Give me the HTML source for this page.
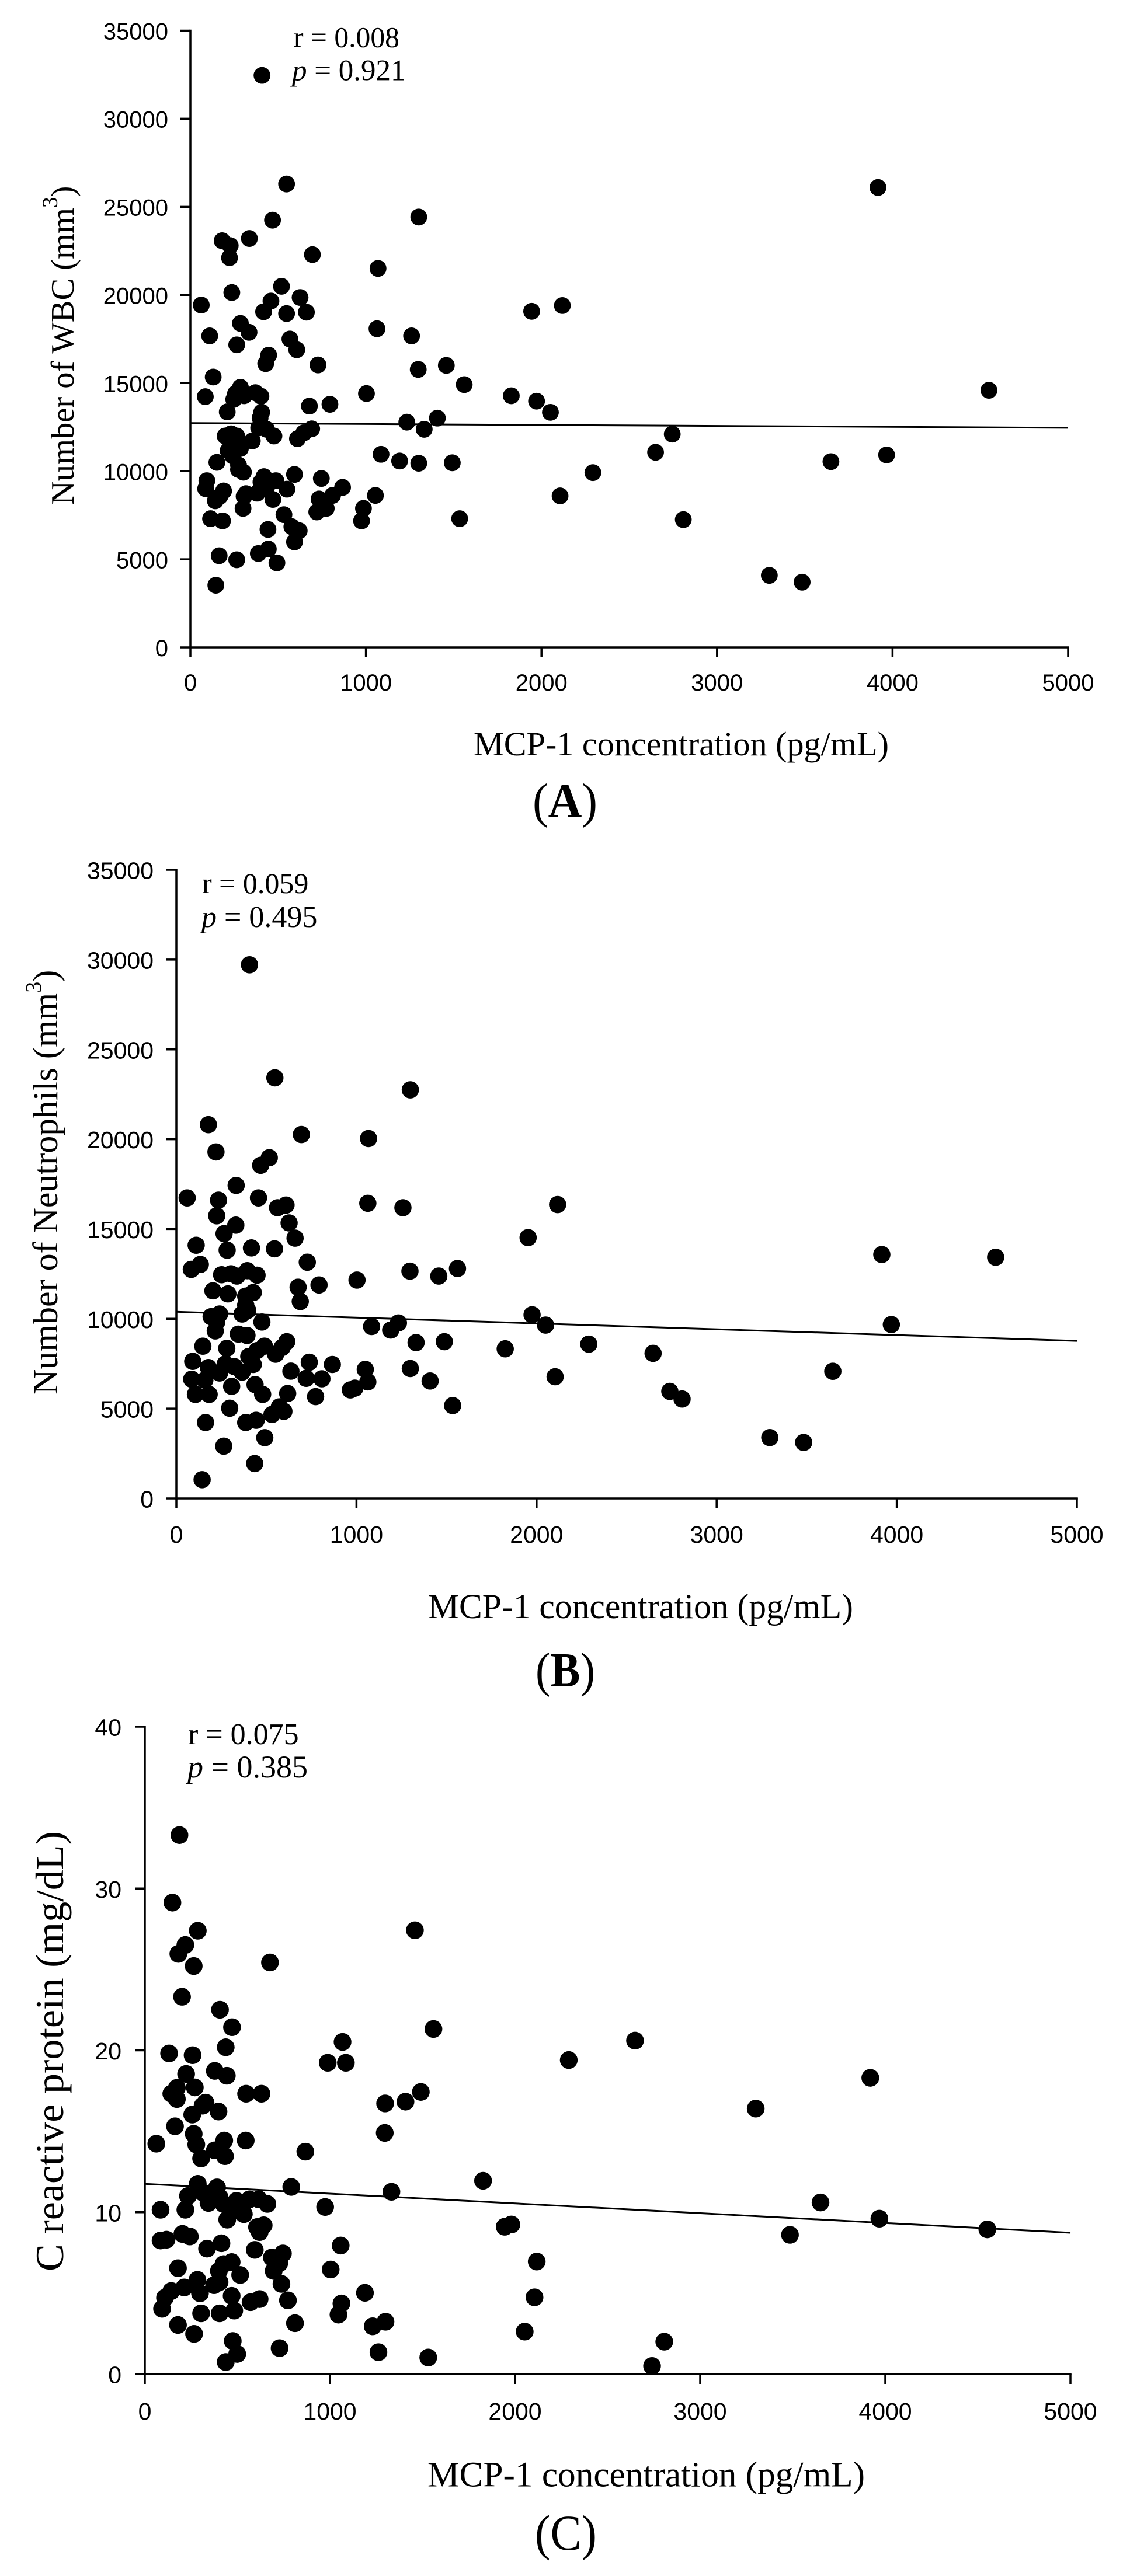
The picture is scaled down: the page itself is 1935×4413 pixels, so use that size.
<!DOCTYPE html>
<html lang="en">
<head>
<meta charset="utf-8">
<title>MCP-1 correlation scatter plots</title>
<style>
html,body{margin:0;padding:0;background:#fff;}
svg{display:block;}
.tick{font-family:"Liberation Sans",Arial,sans-serif;fill:#000;}
.serif{font-family:"Liberation Serif","Times New Roman",serif;fill:#000;}
</style>
</head>
<body>
<svg id="figure" xmlns="http://www.w3.org/2000/svg" width="1935" height="4413" viewBox="0 0 1935 4413">
  <rect x="0" y="0" width="1935" height="4413" fill="#fff"/>

  <g id="panel-a"></g>
  <g id="panel-b"></g>
  <g id="panel-c"></g>

  <!-- Panel A text -->
  <text class="serif" x="503" y="80.5" font-size="50" textLength="181" lengthAdjust="spacingAndGlyphs">r = 0.008</text>
  <text class="serif" x="500" y="137.5" font-size="51"><tspan font-style="italic">p</tspan> = 0.921</text>
  <text class="serif" transform="translate(126,865) rotate(-90)" font-size="56.5">Number of WBC (mm<tspan font-size="37" dy="-28">3</tspan><tspan dy="28">)</tspan></text>
  <text class="serif" x="811" y="1294" font-size="58" textLength="711" lengthAdjust="spacingAndGlyphs">MCP-1 concentration (pg/mL)</text>
  <text class="serif" x="912" y="1400" font-size="84" textLength="111" lengthAdjust="spacingAndGlyphs">(<tspan font-weight="bold">A</tspan>)</text>

  <!-- Panel B text -->
  <text class="serif" x="346" y="1530" font-size="50">r = 0.059</text>
  <text class="serif" x="345" y="1588" font-size="52"><tspan font-style="italic">p</tspan> = 0.495</text>
  <text class="serif" transform="translate(98,2389) rotate(-90)" font-size="60">Number of Neutrophils (mm<tspan font-size="38" dy="-28">3</tspan><tspan dy="28">)</tspan></text>
  <text class="serif" x="733" y="2772" font-size="60" textLength="728" lengthAdjust="spacingAndGlyphs">MCP-1 concentration (pg/mL)</text>
  <text class="serif" x="917" y="2889" font-size="84" textLength="102" lengthAdjust="spacingAndGlyphs">(<tspan font-weight="bold">B</tspan>)</text>

  <!-- Panel C text -->
  <text class="serif" x="322" y="2988" font-size="52">r = 0.075</text>
  <text class="serif" x="321" y="3045" font-size="54"><tspan font-style="italic">p</tspan> = 0.385</text>
  <text class="serif" transform="translate(108,3891) rotate(-90)" font-size="68" textLength="754" lengthAdjust="spacingAndGlyphs">C reactive protein (mg/dL)</text>
  <text class="serif" x="732" y="4259.5" font-size="61" textLength="749" lengthAdjust="spacingAndGlyphs">MCP-1 concentration (pg/mL)</text>
  <text class="serif" x="916" y="4368" font-size="86" textLength="106" lengthAdjust="spacingAndGlyphs">(C)</text>
</svg>

<script>
/* ---------- shared tick labels ---------- */
const mcpTicks = [0, 1000, 2000, 3000, 4000, 5000];
const cellCountTicks = [0, 5000, 10000, 15000, 20000, 25000, 30000, 35000];
const crpTicks = [0, 10, 20, 30, 40];

/* ---------- panel A: WBC ---------- */
const wbcMcp = [62,110,85,130,210,181,227,223,236,336,468,548,1301,695,1069,519,459,625,417,548,661,1063,1260,285,334,264,567,606,446,429,727,1458,1298,1560,1003,795,678,1828,1944,2119,1972,2051,1407,1233,1332,285,257,247,306,370,402,406,397,389,434,476,691,646,610,353,198,232,264,232,285,215,242,274,274,302,151,1086,1192,1301,1492,94,87,189,168,142,593,746,419,487,402,434,550,317,380,306,470,867,810,733,1054,2106,300,774,720,986,975,533,115,183,1534,578,620,442,593,444,387,493,164,264,145,408,3917,4549,2745,2650,2293,2808,3298,3485,3649,3966];
const wbcValues = [19426,17676,14227,15343,13365,23078,22799,22114,20136,23204,24244,26298,24422,22291,21505,20491,19654,19857,19045,18944,19020,18082,17676,18386,17879,17169,17498,16890,16585,16104,16028,16002,15774,14912,14404,13796,13694,14278,19071,19400,13973,13339,13010,12781,12376,14760,14404,14075,14278,14455,14252,13339,13010,12452,12376,11995,12401,12173,11843,11716,11995,12122,11995,11488,11285,11158,10854,10347,10093,9941,10499,10956,10575,10448,10474,9459,9003,8876,8572,8318,9814,9586,9688,9459,9383,9079,8977,8724,8749,8572,8394,9079,8622,8420,8622,8597,7887,7887,7684,7887,7177,7532,7304,7177,7304,6847,6619,6695,5985,5579,5326,4793,5199,4971,3525,32461,26100,14590,12100,11070,9916,7250,4085,3700,10540,10920];
const wbcFit = [12730, 12460];

/* ---------- panel B: neutrophils ---------- */
const neutMcp = [60,110,83,133,178,220,234,224,265,330,332,282,406,547,1299,694,1067,516,468,456,562,609,1063,1258,626,659,417,545,727,1297,1003,1457,1561,792,676,688,251,303,336,394,448,203,286,427,385,385,396,365,240,193,224,216,475,1233,1084,1190,344,392,147,280,613,587,489,448,402,551,1331,1488,1826,91,178,271,323,427,365,738,866,1049,636,240,85,158,721,808,1063,1299,1409,307,437,479,106,182,618,773,966,991,296,572,597,531,1534,162,385,443,491,263,435,143,3917,4549,3970,2117,1953,1975,2050,2290,2103,2647,2740,2808,3295,3483,3645];
const neutValues = [16731,14096,12753,13027,20808,19291,16606,15736,14742,15214,17427,13822,29708,23418,22747,20261,20037,18968,18546,16731,16184,16333,16432,16184,15339,14493,13946,13897,13151,12654,12157,12380,12803,11883,11759,10963,12455,12505,12380,12679,12430,11560,11386,11460,11262,10764,10466,10267,10267,10118,9820,9323,9820,9770,9571,9372,9148,9074,8477,8353,8726,8403,8477,8229,7905,8030,8676,8726,8328,7632,7284,7483,7334,7458,7035,7582,7458,7185,7085,6986,6638,6588,6687,6662,6488,7234,6538,6240,6339,5792,5792,5792,5842,5668,6041,6140,5022,5096,4848,4674,5171,4226,4226,4351,3381,2909,1939,1044,13580,13430,9680,16360,14520,10225,9650,8590,6776,8077,5960,5535,3388,3116,7078];
const neutFit = [10390, 8770];

/* ---------- panel C: C reactive protein ---------- */
const crpMcp = [187,149,286,219,181,264,676,1459,201,406,471,1559,437,1068,131,258,988,1086,378,223,443,270,173,143,173,547,630,1491,328,312,1408,1298,256,398,163,264,1296,278,429,545,62,867,378,433,304,1827,286,390,791,1332,233,314,404,344,425,495,565,616,662,85,219,974,535,485,445,642,606,620,1944,1980,203,243,117,85,414,336,594,1058,746,686,726,696,469,425,400,179,1004,2117,515,284,404,374,213,298,143,109,738,1189,469,620,571,773,2105,1062,1046,93,304,404,483,811,179,1231,1300,266,2052,475,499,437,728,1262,1531,2290,2648,3300,3919,3650,3485,3968,4551,2806,2740];
const crpValues = [33.3,29.13,27.39,26.51,25.96,25.21,25.43,27.42,23.31,22.51,21.43,21.32,20.19,20.52,19.81,19.7,19.23,19.23,18.73,18.54,18.43,17.71,17.68,17.32,16.99,17.32,17.32,17.43,16.77,16.58,16.83,16.72,16.03,16.22,15.31,14.84,14.9,14.18,14.43,14.43,14.23,13.74,13.82,13.46,13.32,11.94,11.75,11.53,11.56,11.26,11,11.2,10.92,10.57,10.51,10.7,10.79,10.79,10.51,10.15,10.15,10.32,9.88,10.1,9.54,9.19,9.08,8.77,9.1,9.24,8.66,8.5,8.3,8.25,8.08,7.75,7.67,7.94,7.45,7.2,6.84,6.37,6.92,6.79,6.37,6.54,6.46,6.95,6.12,5.82,5.68,5.49,5.35,4.99,5.13,4.72,5.57,5.02,4.83,4.63,4.44,4.55,4.74,4.36,3.67,4.03,3.75,3.75,3.92,3.14,3.03,2.95,3.23,2.48,2.62,2.04,1.24,0.74,1.6,1.35,1.02,19.4,20.6,16.4,18.3,10.6,8.6,9.6,8.94,2,0.5];
const crpFit = [11.75, 8.73];

const SVG_NS = 'http://www.w3.org/2000/svg';

function make(tag, parent, attrs) {
  const el = document.createElementNS(SVG_NS, tag);
  for (const k in attrs) el.setAttribute(k, attrs[k]);
  parent.appendChild(el);
  return el;
}

function drawPanel(cfg) {
  const g = document.getElementById(cfg.id);
  const xScale = v => cfg.x0 + (v - cfg.xMin) / (cfg.xMax - cfg.xMin) * (cfg.x1 - cfg.x0);
  const yScale = v => cfg.y0 - (v - cfg.yMin) / (cfg.yMax - cfg.yMin) * (cfg.y0 - cfg.y1);

  const yAxis = make('line', g, {x1: cfg.x0, x2: cfg.x0, y1: cfg.y1 - 1.75, y2: cfg.y0 + 1.75, stroke: '#000', 'stroke-width': 3.5});
  
  
  const xAxis = make('line', g, {x1: cfg.x0, x2: cfg.x1 + 1.75, y1: cfg.y0, y2: cfg.y0, stroke: '#000', 'stroke-width': 3.5});
  
  

  cfg.yTicks.forEach(function (t) {
    const py = yScale(t);
    const mark = make('line', g, {x1: cfg.x0 - cfg.tickLen, x2: cfg.x0, y1: py, y2: py, stroke: '#000', 'stroke-width': 3.5});
    
    
    const label = make('text', g, {class: 'tick', x: cfg.yLabelRight, y: py + cfg.fontSize * 0.38, 'font-size': cfg.fontSize, 'text-anchor': 'end'});
    label.textContent = String(t);
    
    
  });

  cfg.xTicks.forEach(function (t) {
    const px = xScale(t);
    const mark = make('line', g, {x1: px, x2: px, y1: cfg.y0, y2: cfg.y0 + cfg.tickLen, stroke: '#000', 'stroke-width': 3.5});
    
    
    const label = make('text', g, {class: 'tick', x: px, y: cfg.xLabelBase, 'font-size': cfg.fontSize, 'text-anchor': 'middle'});
    label.textContent = String(t);
    
    
  });

  const fit = make('line', g, {x1: xScale(cfg.xMin), y1: yScale(cfg.fit[0]), x2: xScale(cfg.xMax), y2: yScale(cfg.fit[1]), stroke: '#000', 'stroke-width': 3});
  
  

  cfg.xs.forEach(function (v, i) {
    const dot = make('circle', g, {cx: xScale(v), cy: yScale(cfg.ys[i]), r: cfg.r, fill: '#000'});
    
    
  });
}

drawPanel({id: 'panel-a', xs: wbcMcp, ys: wbcValues, fit: wbcFit, xTicks: mcpTicks, yTicks: cellCountTicks,
  xMin: 0, xMax: 5000, yMin: 0, yMax: 35000, x0: 326, x1: 1829, y0: 1109, y1: 52.5, r: 14.4,
  tickLen: 17, fontSize: 40, yLabelRight: 288, xLabelBase: 1183});
drawPanel({id: 'panel-b', xs: neutMcp, ys: neutValues, fit: neutFit, xTicks: mcpTicks, yTicks: cellCountTicks,
  xMin: 0, xMax: 5000, yMin: 0, yMax: 35000, x0: 302, x1: 1844, y0: 2567, y1: 1490, r: 14.8,
  tickLen: 17, fontSize: 41, yLabelRight: 263, xLabelBase: 2643});
drawPanel({id: 'panel-c', xs: crpMcp, ys: crpValues, fit: crpFit, xTicks: mcpTicks, yTicks: crpTicks,
  xMin: 0, xMax: 5000, yMin: 0, yMax: 40, x0: 248, x1: 1833, y0: 4067, y1: 2958, r: 15.2,
  tickLen: 17, fontSize: 41, yLabelRight: 208, xLabelBase: 4145});
</script>
</body>
</html>
